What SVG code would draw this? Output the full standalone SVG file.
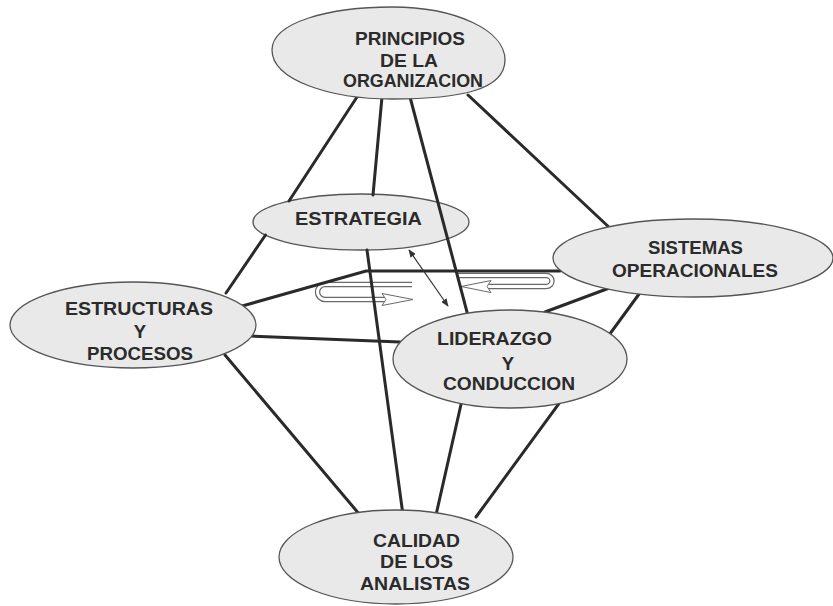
<svg xmlns="http://www.w3.org/2000/svg" width="833" height="606" viewBox="0 0 833 606">
<defs>
<style>
.node ellipse,.node path{fill:#e9e9e9;stroke:#555;stroke-width:1.3}
.node text{font-family:"Liberation Sans",Arial,sans-serif;font-weight:bold;font-size:18.5px;fill:#2b2b2b}
.ln{stroke:#2a2a2a;stroke-width:3;fill:none;stroke-linecap:round}
.thin{stroke:#333;stroke-width:1.2;fill:none}
.bandO{stroke:#6a6a6a;stroke-width:5.5;fill:none}
.bandI{stroke:#fff;stroke-width:3;fill:none}
.head{fill:#fff;stroke:#6a6a6a;stroke-width:1}
</style>
<marker id="ah" viewBox="0 0 10 8" refX="9" refY="4" markerWidth="8" markerHeight="6.4" markerUnits="userSpaceOnUse" orient="auto-start-reverse">
<path d="M0,0 L10,4 L0,8 z" fill="#333"/>
</marker>
</defs>
<rect width="833" height="606" fill="#fff"/>

<g id="estrategia" class="node">
<ellipse cx="361" cy="222" rx="108" ry="28"/>
<text x="295" y="225" textLength="127" lengthAdjust="spacingAndGlyphs">ESTRATEGIA</text>
</g>

<g id="connectors">
<!-- rotation hairpin arrows -->
<path class="bandO" d="M412,284.5 L325,284.5 A7.5,7.5 0 0 0 325,299.5 L386,299.5"/>
<path class="bandI" d="M412,284.5 L325,284.5 A7.5,7.5 0 0 0 325,299.5 L386,299.5"/>
<path class="head" d="M382,293.5 L413,299.5 L382,305.5 L386,299.5 Z"/>
<path class="bandO" d="M458,275.5 L546,275.5 A6,5.5 0 0 1 546,286.5 L488,286.5"/>
<path class="bandI" d="M458,275.5 L546,275.5 A6,5.5 0 0 1 546,286.5 L488,286.5"/>
<path class="head" d="M491,280.5 L461,286.5 L491,292.5 L487,286.5 Z"/>
<!-- edges -->
<line class="ln" x1="357" y1="97" x2="289" y2="201"/>
<line class="ln" x1="265.5" y1="235" x2="226" y2="293"/>
<line class="ln" x1="382" y1="97" x2="373" y2="195"/>
<line class="ln" x1="410" y1="97" x2="467" y2="312"/>
<line class="ln" x1="468" y1="95" x2="612" y2="230"/>
<polyline class="ln" points="235,308 366,271 560,271"/>
<line class="ln" x1="367" y1="250" x2="403" y2="515"/>
<line class="ln" x1="250" y1="336" x2="400" y2="342"/>
<line class="ln" x1="225" y1="355" x2="360" y2="515"/>
<line class="ln" x1="545" y1="312" x2="612" y2="287"/>
<line class="ln" x1="642" y1="290" x2="476" y2="517"/>
<line class="ln" x1="462" y1="400" x2="436" y2="515"/>
<line class="thin" x1="409" y1="250" x2="448" y2="306" marker-start="url(#ah)" marker-end="url(#ah)"/>
</g>

<g id="principios" class="node">
<path d="M272,50 C272,22 330,7 392,7 C455,7 505,30 505,60 C505,90 460,99 392,99 C330,99 272,80 272,50 Z"/>
<text x="355" y="45" textLength="110" lengthAdjust="spacingAndGlyphs">PRINCIPIOS</text>
<text x="380" y="67" textLength="58" lengthAdjust="spacingAndGlyphs">DE LA</text>
<text x="343" y="87" textLength="140" lengthAdjust="spacingAndGlyphs">ORGANIZACION</text>
</g>

<g id="sistemas" class="node">
<ellipse cx="693" cy="258" rx="140" ry="39"/>
<text x="648" y="254" textLength="95" lengthAdjust="spacingAndGlyphs">SISTEMAS</text>
<text x="612" y="277" textLength="166" lengthAdjust="spacingAndGlyphs">OPERACIONALES</text>
</g>

<g id="estructuras" class="node">
<ellipse cx="133" cy="325" rx="123" ry="43"/>
<text x="65" y="315" textLength="148" lengthAdjust="spacingAndGlyphs">ESTRUCTURAS</text>
<text x="140" y="338" text-anchor="middle">Y</text>
<text x="87" y="360" textLength="106" lengthAdjust="spacingAndGlyphs">PROCESOS</text>
</g>

<g id="liderazgo" class="node">
<ellipse cx="510" cy="359" rx="117" ry="49"/>
<text x="437" y="345" textLength="115" lengthAdjust="spacingAndGlyphs">LIDERAZGO</text>
<text x="508" y="370" text-anchor="middle">Y</text>
<text x="443" y="390" textLength="132" lengthAdjust="spacingAndGlyphs">CONDUCCION</text>
</g>

<g id="calidad" class="node">
<ellipse cx="396" cy="557" rx="117" ry="47"/>
<text x="373" y="547" textLength="87" lengthAdjust="spacingAndGlyphs">CALIDAD</text>
<text x="380" y="568" textLength="73" lengthAdjust="spacingAndGlyphs">DE LOS</text>
<text x="360" y="590" textLength="110" lengthAdjust="spacingAndGlyphs">ANALISTAS</text>
</g>
</svg>
